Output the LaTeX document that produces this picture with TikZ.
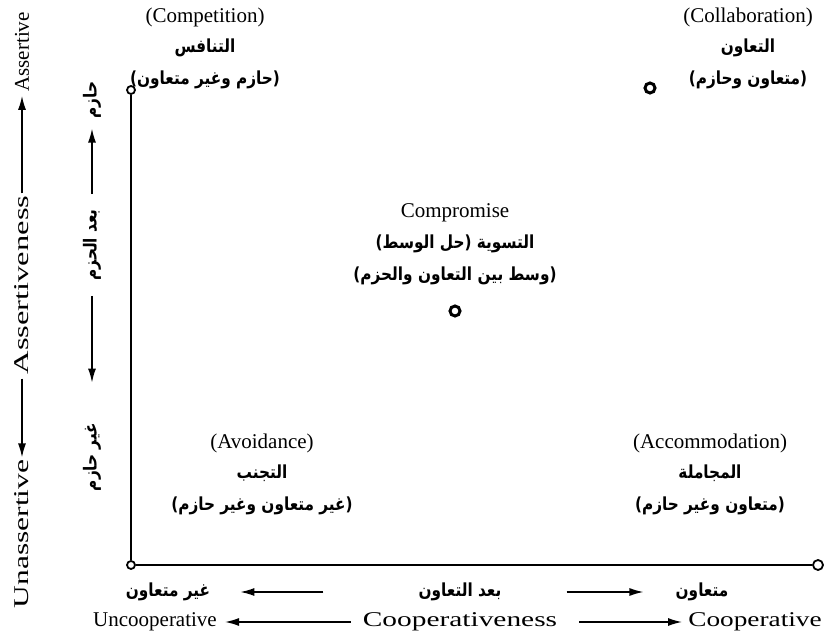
\documentclass[tikz,border=0pt]{standalone}
\usepackage{fontspec}
\setmainfont{Liberation Serif}
\newfontfamily\arabicfont[Script=Arabic,FakeStretch=0.85]{DejaVu Sans}
\TeXXeTstate=1
\usetikzlibrary{positioning,arrows.meta}
\newcommand{\ar}[1]{{\arabicfont\bfseries\beginR #1\endR}}

\begin{document}
\begin{tikzpicture}[x=1pt,y=1pt,>=Latex,
    en/.style={font=\fontsize{21}{25}\selectfont,inner sep=0pt,minimum height=28pt},
    wide/.style={en,font=\fontsize{21}{25}\selectfont\addfontfeatures{FakeStretch=#1}},
    arb/.style={font=\fontsize{18}{21}\selectfont,inner sep=0pt,minimum height=32pt},
    axis/.style={line width=2pt},
    arr/.style={line width=1.5pt,-{Latex[length=14pt,width=8pt]}},
    ring/.style={circle,draw,line width=1.8pt,fill=white,inner sep=0pt,minimum size=8pt},
    dot/.style={circle,draw,line width=3pt,fill=white,inner sep=0pt,minimum size=10pt}]
    \useasboundingbox (0,0) rectangle (831,-636);
    % axes
    \node[ring] (top) at (131,-90) {};
    \node[ring] (org) at (131,-565) {};
    \node[ring,minimum size=10pt] (rgt) at (818,-565) {};
    \draw[axis] (org) -- (top);
    \draw[axis] (org) -- (rgt);
    % styles of conflict
    \node[en] (compT) at (205,-17) {(Competition)};
    \node[arb,below=0pt of compT] (compA) {\ar{التنافس}};
    \node[arb,below=0pt of compA] (compB) {\ar{(حازم وغير متعاون)}};
    \node[en] (collT) at (748,-17) {(Collaboration)};
    \node[arb,below=0pt of collT] (collA) {\ar{التعاون}};
    \node[arb,below=0pt of collA] (collB) {\ar{(متعاون وحازم)}};
    \node[dot] (collP) at (650,-88) {};
    \node[en] (cproT) at (455,-213) {Compromise};
    \node[arb,below=0pt of cproT] (cproA) {\ar{التسوية (حل الوسط)}};
    \node[arb,below=0pt of cproA] (cproB) {\ar{(وسط بين التعاون والحزم)}};
    \node[dot] (cproP) at (455,-311) {};
    \node[en] (avoT) at (262,-443) {(Avoidance)};
    \node[arb,below=0pt of avoT] (avoA) {\ar{التجنب}};
    \node[arb,below=0pt of avoA] (avoB) {\ar{(غير متعاون وغير حازم)}};
    \node[en] (accT) at (710,-443) {(Accommodation)};
    \node[arb,below=0pt of accT] (accA) {\ar{المجاملة}};
    \node[arb,below=0pt of accA] (accB) {\ar{(متعاون وغير حازم)}};
    % cooperativeness (bottom)
    \node[arb] (uncoA) at (168,-592) {\ar{غير متعاون}};
    \node[arb] (coopA) at (460,-592) {\ar{بعد التعاون}};
    \node[arb] (cooA) at (702,-592) {\ar{متعاون}};
    \draw[arr,shorten <=95pt,shorten >=30pt] (coopA) -- (uncoA);
    \draw[arr,shorten <=65pt,shorten >=32pt] (coopA) -- (cooA);
    \node[en] (uncoE) at (155,-622) {Uncooperative};
    \node[wide=1.4] (coopE) at (460,-622) {Cooperativeness};
    \node[wide=1.3] (cooE) at (755,-622) {Cooperative};
    \draw[arr,shorten <=12pt,shorten >=8pt] (coopE) -- (uncoE);
    \draw[arr,shorten <=22pt,shorten >=6pt] (coopE) -- (cooE);
    % assertiveness (left)
    \node[wide=1.5,rotate=90] (unasE) at (22,-534) {Unassertive};
    \node[wide=1.55,rotate=90] (asnE) at (22,-285) {Assertiveness};
    \node[en,rotate=90] (asE) at (22,-52) {Assertive};
    \draw[arr,shorten <=4pt,shorten >=2pt] (asnE) -- (unasE);
    \draw[arr,shorten <=2pt,shorten >=4pt] (asnE) -- (asE);
    \node[arb,rotate=90] (asA) at (92,-100) {\ar{حازم}};
    \node[arb,rotate=90] (asnA) at (92,-245) {\ar{بعد الحزم}};
    \node[arb,rotate=90] (unasA) at (92,-457) {\ar{غير حازم}};
    \draw[arr,shorten <=15pt,shorten >=10pt] (asnA) -- (asA);
    \draw[arr,shorten <=15pt,shorten >=40pt] (asnA) -- (unasA);
\end{tikzpicture}
\end{document}
